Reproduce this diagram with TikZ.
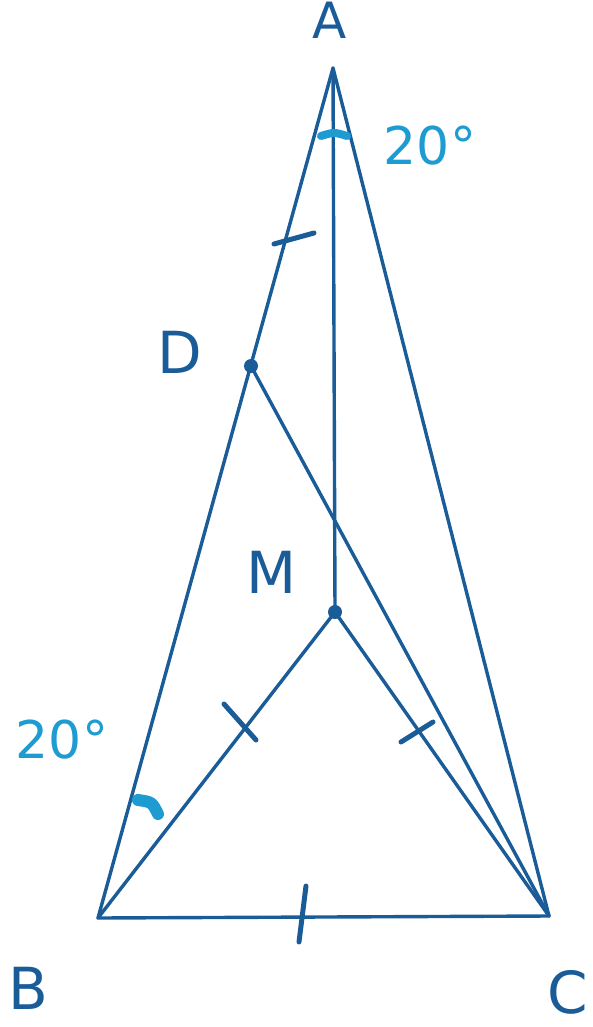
\documentclass[tikz,border=0pt]{standalone}
\usepackage{fontspec}
\setmainfont{DejaVu Sans}
\definecolor{ink}{HTML}{1A5C98}
\definecolor{ang}{HTML}{1E9CD2}
\begin{document}
\begin{tikzpicture}[x=1pt,y=-1pt,
  seg/.style={draw=ink,line width=3.4pt,line cap=round,line join=round},
  tick/.style={draw=ink,line width=5pt,line cap=round},
  lbl/.style={text=ink,font=\fontsize{58}{58}\selectfont,inner sep=0pt},
  deg/.style={text=ang,font=\fontsize{52}{52}\selectfont,inner sep=0pt},
  pt/.style={circle,fill=ink,inner sep=0pt,minimum size=14pt}]
\useasboundingbox (0,0) rectangle (592,1027);
\coordinate (A) at (333,68);
\coordinate (B) at (98,918);
\coordinate (C) at (549,916);
\node[pt] (D) at (251,366) {};
\node[pt] (M) at (335,612) {};
\draw[seg] (A) -- (B) -- (C) -- cycle;
\draw[seg] (A) -- (M.center);
\draw[seg] (B) -- (M.center) -- (C);
\draw[seg] (D.center) -- (C);
% ticks
\coordinate (t1a) at (274,244); \coordinate (t1b) at (314,233);
\coordinate (t2a) at (224,704); \coordinate (t2b) at (256,740);
\coordinate (t3a) at (401,742); \coordinate (t3b) at (433,722);
\coordinate (t4a) at (306,886); \coordinate (t4b) at (299,942);
\draw[tick] (t1a) -- (t1b);
\draw[tick] (t2a) -- (t2b);
\draw[tick] (t3a) -- (t3b);
\draw[tick] (t4a) -- (t4b);
% angle marks
\coordinate (aA1) at (321,136); \coordinate (aA2) at (347,136);
\draw[ang,line width=8pt,line cap=round] (aA1) .. controls (334,132) .. (aA2);
\coordinate (aB1) at (138,800); \coordinate (aB2) at (158,814);
\draw[ang,line width=12pt,line cap=round] (aB1) .. controls (152,802) .. (aB2);
% labels
\node[lbl,font=\fontsize{50}{50}\selectfont] (lA) at (330,20) {A};
\node[lbl] (lB) at (28,988) {B};
\node[lbl] (lC) at (568,992) {C};
\node[lbl] (lD) at (180,352) {D};
\node[lbl] (lM) at (272,572) {M};
\node[deg] (dA) at (430,146) {20°};
\node[deg] (dB) at (62,740) {20°};
\end{tikzpicture}
\end{document}
